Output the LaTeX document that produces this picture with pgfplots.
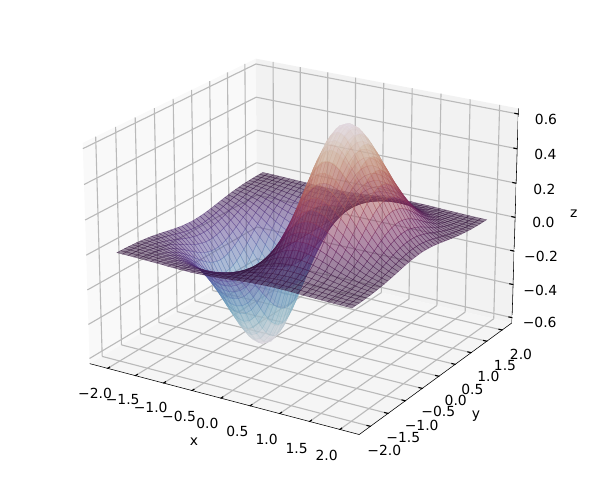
\documentclass[border=0pt]{standalone}
\usepackage{fontspec}
\setmainfont{DejaVu Sans}
\usepackage{pgfplots}
\pgfplotsset{compat=1.18}
% perspective divide, as the reference's camera
\makeatletter
\def\myperspxyz#1#2#3{%
  \global\pgf@x=#1\pgf@xx\global\advance\pgf@x by #2\pgf@yx\global\advance\pgf@x by #3\pgf@zx
  \global\pgf@y=#1\pgf@xy\global\advance\pgf@y by #2\pgf@yy\global\advance\pgf@y by #3\pgf@zy
  \edef\persw{\number\dimexpr 1pt+#1pt*-1197/100000+#2pt*1954/100000+#3pt*-2485/100000\relax}%
  \global\pgf@x=\dimexpr\pgf@x*65536/\persw\relax
  \global\pgf@y=\dimexpr\pgf@y*65536/\persw\relax}
\let\pgfplotsqpointxyz\myperspxyz
\makeatother
\begin{document}
\begin{tikzpicture}
\begin{axis}[
  at={(219.3pt,178.6pt)}, anchor=origin,
  disabledatascaling, set layers,
  x={(41.28pt,-9.27pt)}, y={(25.29pt,15.13pt)}, z={(0pt,124pt)},
  xmin=-2.32, xmax=2.32, ymin=-2.32, ymax=2.32, zmin=-0.632, zmax=0.632,
  xtick={-2,-1.5,...,2}, ytick={-2,-1.5,...,2}, ztick={-0.6,-0.4,...,0.6},
  xticklabel=\empty, yticklabel=\empty, zticklabel=\empty,
  grid=major, grid style={color=black!27, line width=0.8pt},
  axis line style={draw=none}, major tick length=0pt,
  colormap={twi}{rgb=(.886,.85,.888) rgb=(.80,.82,.84) rgb=(.69,.77,.81) rgb=(.57,.72,.78) rgb=(.47,.65,.75) rgb=(.40,.57,.73) rgb=(.37,.48,.70) rgb=(.37,.38,.65) rgb=(.36,.27,.57) rgb=(.30,.16,.44) rgb=(.19,.07,.22) rgb=(.27,.08,.29) rgb=(.40,.12,.36) rgb=(.51,.19,.37) rgb=(.61,.27,.36) rgb=(.69,.37,.37) rgb=(.75,.49,.42) rgb=(.79,.61,.52) rgb=(.82,.73,.66) rgb=(.86,.80,.79) rgb=(.886,.85,.888)},
  point meta min=-0.686, point meta max=0.686,
]
% panes
\addplot3[on layer=axis background, fill=black!2.5, draw=none] coordinates {(-2.32,-2.32,-.632) (-2.32,2.32,-.632) (-2.32,2.32,.632) (-2.32,-2.32,.632)} --cycle;
\addplot3[on layer=axis background, fill=black!5, draw=none] coordinates {(-2.32,2.32,-.632) (2.32,2.32,-.632) (2.32,2.32,.632) (-2.32,2.32,.632)} --cycle;
\addplot3[on layer=axis background, fill=black!3.75, draw=none] coordinates {(-2.32,-2.32,-.632) (2.32,-2.32,-.632) (2.32,2.32,-.632) (-2.32,2.32,-.632)} --cycle;
\addplot3[surf, shader=faceted, faceted color=mapped color, line width=0.25pt, opacity=0.5, z buffer=sort, mesh/cols=41, mesh/ordering=x varies] table {
-2 -2 -.001
-1.9 -2 -.002
-1.8 -2 -.002
-1.7 -2 -.003
-1.6 -2 -.004
-1.5 -2 -.005
-1.4 -2 -.006
-1.3 -2 -.007
-1.2 -2 -.008
-1.1 -2 -.010
-1 -2 -.011
-.9 -2 -.012
-.8 -2 -.012
-.7 -2 -.013
-.6 -2 -.012
-.5 -2 -.011
-.4 -2 -.010
-.3 -2 -.008
-.2 -2 -.006
-.1 -2 -.003
0 -2 0
.1 -2 .003
.2 -2 .006
.3 -2 .008
.4 -2 .010
.5 -2 .011
.6 -2 .012
.7 -2 .013
.8 -2 .012
.9 -2 .012
1 -2 .011
1.1 -2 .010
1.2 -2 .008
1.3 -2 .007
1.4 -2 .006
1.5 -2 .005
1.6 -2 .004
1.7 -2 .003
1.8 -2 .002
1.9 -2 .002
2 -2 .001
-2 -1.9 -.002
-1.9 -1.9 -.002
-1.8 -1.9 -.003
-1.7 -1.9 -.004
-1.6 -1.9 -.005
-1.5 -1.9 -.007
-1.4 -1.9 -.009
-1.3 -1.9 -.010
-1.2 -1.9 -.012
-1.1 -1.9 -.014
-1 -1.9 -.016
-.9 -1.9 -.017
-.8 -1.9 -.018
-.7 -1.9 -.019
-.6 -1.9 -.018
-.5 -1.9 -.017
-.4 -1.9 -.015
-.3 -1.9 -.012
-.2 -1.9 -.008
-.1 -1.9 -.004
0 -1.9 0
.1 -1.9 .004
.2 -1.9 .008
.3 -1.9 .012
.4 -1.9 .015
.5 -1.9 .017
.6 -1.9 .018
.7 -1.9 .019
.8 -1.9 .018
.9 -1.9 .017
1 -1.9 .016
1.1 -1.9 .014
1.2 -1.9 .012
1.3 -1.9 .010
1.4 -1.9 .009
1.5 -1.9 .007
1.6 -1.9 .005
1.7 -1.9 .004
1.8 -1.9 .003
1.9 -1.9 .002
2 -1.9 .002
-2 -1.8 -.002
-1.9 -1.8 -.003
-1.8 -1.8 -.004
-1.7 -1.8 -.006
-1.6 -1.8 -.008
-1.5 -1.8 -.010
-1.4 -1.8 -.012
-1.3 -1.8 -.015
-1.2 -1.8 -.018
-1.1 -1.8 -.021
-1 -1.8 -.023
-.9 -1.8 -.025
-.8 -1.8 -.026
-.7 -1.8 -.027
-.6 -1.8 -.026
-.5 -1.8 -.024
-.4 -1.8 -.021
-.3 -1.8 -.017
-.2 -1.8 -.012
-.1 -1.8 -.006
0 -1.8 0
.1 -1.8 .006
.2 -1.8 .012
.3 -1.8 .017
.4 -1.8 .021
.5 -1.8 .024
.6 -1.8 .026
.7 -1.8 .027
.8 -1.8 .026
.9 -1.8 .025
1 -1.8 .023
1.1 -1.8 .021
1.2 -1.8 .018
1.3 -1.8 .015
1.4 -1.8 .012
1.5 -1.8 .010
1.6 -1.8 .008
1.7 -1.8 .006
1.8 -1.8 .004
1.9 -1.8 .003
2 -1.8 .002
-2 -1.7 -.003
-1.9 -1.7 -.005
-1.8 -1.7 -.006
-1.7 -1.7 -.008
-1.6 -1.7 -.011
-1.5 -1.7 -.014
-1.4 -1.7 -.018
-1.3 -1.7 -.021
-1.2 -1.7 -.025
-1.1 -1.7 -.029
-1 -1.7 -.033
-.9 -1.7 -.036
-.8 -1.7 -.038
-.7 -1.7 -.038
-.6 -1.7 -.037
-.5 -1.7 -.035
-.4 -1.7 -.030
-.3 -1.7 -.024
-.2 -1.7 -.017
-.1 -1.7 -.009
0 -1.7 0
.1 -1.7 .009
.2 -1.7 .017
.3 -1.7 .024
.4 -1.7 .030
.5 -1.7 .035
.6 -1.7 .037
.7 -1.7 .038
.8 -1.7 .038
.9 -1.7 .036
1 -1.7 .033
1.1 -1.7 .029
1.2 -1.7 .025
1.3 -1.7 .021
1.4 -1.7 .018
1.5 -1.7 .014
1.6 -1.7 .011
1.7 -1.7 .008
1.8 -1.7 .006
1.9 -1.7 .005
2 -1.7 .003
-2 -1.6 -.005
-1.9 -1.6 -.006
-1.8 -1.6 -.009
-1.7 -1.6 -.012
-1.6 -1.6 -.015
-1.5 -1.6 -.020
-1.4 -1.6 -.024
-1.3 -1.6 -.030
-1.2 -1.6 -.035
-1.1 -1.6 -.041
-1 -1.6 -.045
-.9 -1.6 -.050
-.8 -1.6 -.052
-.7 -1.6 -.053
-.6 -1.6 -.052
-.5 -1.6 -.048
-.4 -1.6 -.042
-.3 -1.6 -.034
-.2 -1.6 -.024
-.1 -1.6 -.012
0 -1.6 0
.1 -1.6 .012
.2 -1.6 .024
.3 -1.6 .034
.4 -1.6 .042
.5 -1.6 .048
.6 -1.6 .052
.7 -1.6 .053
.8 -1.6 .052
.9 -1.6 .050
1 -1.6 .045
1.1 -1.6 .041
1.2 -1.6 .035
1.3 -1.6 .030
1.4 -1.6 .024
1.5 -1.6 .020
1.6 -1.6 .015
1.7 -1.6 .012
1.8 -1.6 .009
1.9 -1.6 .006
2 -1.6 .005
-2 -1.5 -.006
-1.9 -1.5 -.009
-1.8 -1.5 -.012
-1.7 -1.5 -.016
-1.6 -1.5 -.021
-1.5 -1.5 -.027
-1.4 -1.5 -.033
-1.3 -1.5 -.040
-1.2 -1.5 -.048
-1.1 -1.5 -.055
-1 -1.5 -.062
-.9 -1.5 -.068
-.8 -1.5 -.071
-.7 -1.5 -.072
-.6 -1.5 -.071
-.5 -1.5 -.066
-.4 -1.5 -.057
-.3 -1.5 -.046
-.2 -1.5 -.032
-.1 -1.5 -.017
0 -1.5 0
.1 -1.5 .017
.2 -1.5 .032
.3 -1.5 .046
.4 -1.5 .057
.5 -1.5 .066
.6 -1.5 .071
.7 -1.5 .072
.8 -1.5 .071
.9 -1.5 .068
1 -1.5 .062
1.1 -1.5 .055
1.2 -1.5 .048
1.3 -1.5 .040
1.4 -1.5 .033
1.5 -1.5 .027
1.6 -1.5 .021
1.7 -1.5 .016
1.8 -1.5 .012
1.9 -1.5 .009
2 -1.5 .006
-2 -1.4 -.008
-1.9 -1.4 -.012
-1.8 -1.4 -.016
-1.7 -1.4 -.021
-1.6 -1.4 -.028
-1.5 -1.4 -.036
-1.4 -1.4 -.044
-1.3 -1.4 -.054
-1.2 -1.4 -.064
-1.1 -1.4 -.074
-1 -1.4 -.083
-.9 -1.4 -.090
-.8 -1.4 -.095
-.7 -1.4 -.097
-.6 -1.4 -.094
-.5 -1.4 -.088
-.4 -1.4 -.077
-.3 -1.4 -.062
-.2 -1.4 -.043
-.1 -1.4 -.022
0 -1.4 0
.1 -1.4 .022
.2 -1.4 .043
.3 -1.4 .062
.4 -1.4 .077
.5 -1.4 .088
.6 -1.4 .094
.7 -1.4 .097
.8 -1.4 .095
.9 -1.4 .090
1 -1.4 .083
1.1 -1.4 .074
1.2 -1.4 .064
1.3 -1.4 .054
1.4 -1.4 .044
1.5 -1.4 .036
1.6 -1.4 .028
1.7 -1.4 .021
1.8 -1.4 .016
1.9 -1.4 .012
2 -1.4 .008
-2 -1.3 -.011
-1.9 -1.3 -.015
-1.8 -1.3 -.021
-1.7 -1.3 -.028
-1.6 -1.3 -.037
-1.5 -1.3 -.047
-1.4 -1.3 -.058
-1.3 -1.3 -.071
-1.2 -1.3 -.084
-1.1 -1.3 -.097
-1 -1.3 -.109
-.9 -1.3 -.118
-.8 -1.3 -.125
-.7 -1.3 -.127
-.6 -1.3 -.124
-.5 -1.3 -.115
-.4 -1.3 -.101
-.3 -1.3 -.081
-.2 -1.3 -.057
-.1 -1.3 -.029
0 -1.3 0
.1 -1.3 .029
.2 -1.3 .057
.3 -1.3 .081
.4 -1.3 .101
.5 -1.3 .115
.6 -1.3 .124
.7 -1.3 .127
.8 -1.3 .125
.9 -1.3 .118
1 -1.3 .109
1.1 -1.3 .097
1.2 -1.3 .084
1.3 -1.3 .071
1.4 -1.3 .058
1.5 -1.3 .047
1.6 -1.3 .037
1.7 -1.3 .028
1.8 -1.3 .021
1.9 -1.3 .015
2 -1.3 .011
-2 -1.2 -.014
-1.9 -1.2 -.020
-1.8 -1.2 -.027
-1.7 -1.2 -.036
-1.6 -1.2 -.047
-1.5 -1.2 -.060
-1.4 -1.2 -.075
-1.3 -1.2 -.091
-1.2 -1.2 -.108
-1.1 -1.2 -.124
-1 -1.2 -.139
-.9 -1.2 -.152
-.8 -1.2 -.160
-.7 -1.2 -.163
-.6 -1.2 -.159
-.5 -1.2 -.148
-.4 -1.2 -.129
-.3 -1.2 -.104
-.2 -1.2 -.073
-.1 -1.2 -.038
0 -1.2 0
.1 -1.2 .038
.2 -1.2 .073
.3 -1.2 .104
.4 -1.2 .129
.5 -1.2 .148
.6 -1.2 .159
.7 -1.2 .163
.8 -1.2 .160
.9 -1.2 .152
1 -1.2 .139
1.1 -1.2 .124
1.2 -1.2 .108
1.3 -1.2 .091
1.4 -1.2 .075
1.5 -1.2 .060
1.6 -1.2 .047
1.7 -1.2 .036
1.8 -1.2 .027
1.9 -1.2 .020
2 -1.2 .014
-2 -1.1 -.017
-1.9 -1.1 -.025
-1.8 -1.1 -.034
-1.7 -1.1 -.045
-1.6 -1.1 -.059
-1.5 -1.1 -.075
-1.4 -1.1 -.094
-1.3 -1.1 -.114
-1.2 -1.1 -.136
-1.1 -1.1 -.156
-1 -1.1 -.176
-.9 -1.1 -.191
-.8 -1.1 -.201
-.7 -1.1 -.205
-.6 -1.1 -.200
-.5 -1.1 -.186
-.4 -1.1 -.163
-.3 -1.1 -.131
-.2 -1.1 -.092
-.1 -1.1 -.047
0 -1.1 0
.1 -1.1 .047
.2 -1.1 .092
.3 -1.1 .131
.4 -1.1 .163
.5 -1.1 .186
.6 -1.1 .200
.7 -1.1 .205
.8 -1.1 .201
.9 -1.1 .191
1 -1.1 .176
1.1 -1.1 .156
1.2 -1.1 .136
1.3 -1.1 .114
1.4 -1.1 .094
1.5 -1.1 .075
1.6 -1.1 .059
1.7 -1.1 .045
1.8 -1.1 .034
1.9 -1.1 .025
2 -1.1 .017
-2 -1 -.022
-1.9 -1 -.030
-1.8 -1 -.042
-1.7 -1 -.056
-1.6 -1 -.073
-1.5 -1 -.093
-1.4 -1 -.116
-1.3 -1 -.141
-1.2 -1 -.167
-1.1 -1 -.193
-1 -1 -.217
-.9 -1 -.236
-.8 -1 -.248
-.7 -1 -.252
-.6 -1 -.246
-.5 -1 -.229
-.4 -1 -.201
-.3 -1 -.161
-.2 -1 -.113
-.1 -1 -.058
0 -1 0
.1 -1 .058
.2 -1 .113
.3 -1 .161
.4 -1 .201
.5 -1 .229
.6 -1 .246
.7 -1 .252
.8 -1 .248
.9 -1 .236
1 -1 .217
1.1 -1 .193
1.2 -1 .167
1.3 -1 .141
1.4 -1 .116
1.5 -1 .093
1.6 -1 .073
1.7 -1 .056
1.8 -1 .042
1.9 -1 .030
2 -1 .022
-2 -.9 -.026
-1.9 -.9 -.037
-1.8 -.9 -.050
-1.7 -.9 -.067
-1.6 -.9 -.088
-1.5 -.9 -.113
-1.4 -.9 -.140
-1.3 -.9 -.171
-1.2 -.9 -.202
-1.1 -.9 -.233
-1 -.9 -.262
-.9 -.9 -.285
-.8 -.9 -.300
-.7 -.9 -.305
-.6 -.9 -.298
-.5 -.9 -.277
-.4 -.9 -.243
-.3 -.9 -.195
-.2 -.9 -.137
-.1 -.9 -.070
0 -.9 0
.1 -.9 .070
.2 -.9 .137
.3 -.9 .195
.4 -.9 .243
.5 -.9 .277
.6 -.9 .298
.7 -.9 .305
.8 -.9 .300
.9 -.9 .285
1 -.9 .262
1.1 -.9 .233
1.2 -.9 .202
1.3 -.9 .171
1.4 -.9 .140
1.5 -.9 .113
1.6 -.9 .088
1.7 -.9 .067
1.8 -.9 .050
1.9 -.9 .037
2 -.9 .026
-2 -.8 -.031
-1.9 -.8 -.043
-1.8 -.8 -.060
-1.7 -.8 -.080
-1.6 -.8 -.104
-1.5 -.8 -.133
-1.4 -.8 -.166
-1.3 -.8 -.202
-1.2 -.8 -.240
-1.1 -.8 -.277
-1 -.8 -.310
-.9 -.8 -.338
-.8 -.8 -.356
-.7 -.8 -.362
-.6 -.8 -.353
-.5 -.8 -.329
-.4 -.8 -.288
-.3 -.8 -.231
-.2 -.8 -.162
-.1 -.8 -.084
0 -.8 0
.1 -.8 .084
.2 -.8 .162
.3 -.8 .231
.4 -.8 .288
.5 -.8 .329
.6 -.8 .353
.7 -.8 .362
.8 -.8 .356
.9 -.8 .338
1 -.8 .310
1.1 -.8 .277
1.2 -.8 .240
1.3 -.8 .202
1.4 -.8 .166
1.5 -.8 .133
1.6 -.8 .104
1.7 -.8 .080
1.8 -.8 .060
1.9 -.8 .043
2 -.8 .031
-2 -.7 -.036
-1.9 -.7 -.050
-1.8 -.7 -.069
-1.7 -.7 -.093
-1.6 -.7 -.121
-1.5 -.7 -.155
-1.4 -.7 -.193
-1.3 -.7 -.235
-1.2 -.7 -.279
-1.1 -.7 -.321
-1 -.7 -.361
-.9 -.7 -.392
-.8 -.7 -.413
-.7 -.7 -.420
-.6 -.7 -.410
-.5 -.7 -.382
-.4 -.7 -.334
-.3 -.7 -.269
-.2 -.7 -.188
-.1 -.7 -.097
0 -.7 0
.1 -.7 .097
.2 -.7 .188
.3 -.7 .269
.4 -.7 .334
.5 -.7 .382
.6 -.7 .410
.7 -.7 .420
.8 -.7 .413
.9 -.7 .392
1 -.7 .361
1.1 -.7 .321
1.2 -.7 .279
1.3 -.7 .235
1.4 -.7 .193
1.5 -.7 .155
1.6 -.7 .121
1.7 -.7 .093
1.8 -.7 .069
1.9 -.7 .050
2 -.7 .036
-2 -.6 -.041
-1.9 -.6 -.057
-1.8 -.6 -.079
-1.7 -.6 -.105
-1.6 -.6 -.138
-1.5 -.6 -.177
-1.4 -.6 -.220
-1.3 -.6 -.268
-1.2 -.6 -.317
-1.1 -.6 -.366
-1 -.6 -.411
-.9 -.6 -.447
-.8 -.6 -.471
-.7 -.6 -.479
-.6 -.6 -.467
-.5 -.6 -.435
-.4 -.6 -.380
-.3 -.6 -.306
-.2 -.6 -.215
-.1 -.6 -.111
0 -.6 0
.1 -.6 .111
.2 -.6 .215
.3 -.6 .306
.4 -.6 .380
.5 -.6 .435
.6 -.6 .467
.7 -.6 .479
.8 -.6 .471
.9 -.6 .447
1 -.6 .411
1.1 -.6 .366
1.2 -.6 .317
1.3 -.6 .268
1.4 -.6 .220
1.5 -.6 .177
1.6 -.6 .138
1.7 -.6 .105
1.8 -.6 .079
1.9 -.6 .057
2 -.6 .041
-2 -.5 -.046
-1.9 -.5 -.064
-1.8 -.5 -.088
-1.7 -.5 -.118
-1.6 -.5 -.154
-1.5 -.5 -.197
-1.4 -.5 -.246
-1.3 -.5 -.299
-1.2 -.5 -.354
-1.1 -.5 -.409
-1 -.5 -.458
-.9 -.5 -.499
-.8 -.5 -.526
-.7 -.5 -.534
-.6 -.5 -.522
-.5 -.5 -.485
-.4 -.5 -.425
-.3 -.5 -.342
-.2 -.5 -.239
-.1 -.5 -.123
0 -.5 0
.1 -.5 .123
.2 -.5 .239
.3 -.5 .342
.4 -.5 .425
.5 -.5 .485
.6 -.5 .522
.7 -.5 .534
.8 -.5 .526
.9 -.5 .499
1 -.5 .458
1.1 -.5 .409
1.2 -.5 .354
1.3 -.5 .299
1.4 -.5 .246
1.5 -.5 .197
1.6 -.5 .154
1.7 -.5 .118
1.8 -.5 .088
1.9 -.5 .064
2 -.5 .046
-2 -.4 -.050
-1.9 -.4 -.070
-1.8 -.4 -.096
-1.7 -.4 -.129
-1.6 -.4 -.169
-1.5 -.4 -.216
-1.4 -.4 -.269
-1.3 -.4 -.327
-1.2 -.4 -.388
-1.1 -.4 -.447
-1 -.4 -.502
-.9 -.4 -.546
-.8 -.4 -.575
-.7 -.4 -.585
-.6 -.4 -.571
-.5 -.4 -.531
-.4 -.4 -.465
-.3 -.4 -.374
-.2 -.4 -.262
-.1 -.4 -.135
0 -.4 0
.1 -.4 .135
.2 -.4 .262
.3 -.4 .374
.4 -.4 .465
.5 -.4 .531
.6 -.4 .571
.7 -.4 .585
.8 -.4 .575
.9 -.4 .546
1 -.4 .502
1.1 -.4 .447
1.2 -.4 .388
1.3 -.4 .327
1.4 -.4 .269
1.5 -.4 .216
1.6 -.4 .169
1.7 -.4 .129
1.8 -.4 .096
1.9 -.4 .070
2 -.4 .050
-2 -.3 -.054
-1.9 -.3 -.075
-1.8 -.3 -.103
-1.7 -.3 -.138
-1.6 -.3 -.181
-1.5 -.3 -.231
-1.4 -.3 -.289
-1.3 -.3 -.351
-1.2 -.3 -.416
-1.1 -.3 -.480
-1 -.3 -.538
-.9 -.3 -.585
-.8 -.3 -.617
-.7 -.3 -.627
-.6 -.3 -.612
-.5 -.3 -.569
-.4 -.3 -.498
-.3 -.3 -.401
-.2 -.3 -.281
-.1 -.3 -.145
0 -.3 0
.1 -.3 .145
.2 -.3 .281
.3 -.3 .401
.4 -.3 .498
.5 -.3 .569
.6 -.3 .612
.7 -.3 .627
.8 -.3 .617
.9 -.3 .585
1 -.3 .538
1.1 -.3 .480
1.2 -.3 .416
1.3 -.3 .351
1.4 -.3 .289
1.5 -.3 .231
1.6 -.3 .181
1.7 -.3 .138
1.8 -.3 .103
1.9 -.3 .075
2 -.3 .054
-2 -.2 -.056
-1.9 -.2 -.079
-1.8 -.2 -.109
-1.7 -.2 -.145
-1.6 -.2 -.190
-1.5 -.2 -.243
-1.4 -.2 -.303
-1.3 -.2 -.369
-1.2 -.2 -.437
-1.1 -.2 -.504
-1 -.2 -.566
-.9 -.2 -.615
-.8 -.2 -.648
-.7 -.2 -.659
-.6 -.2 -.644
-.5 -.2 -.599
-.4 -.2 -.524
-.3 -.2 -.422
-.2 -.2 -.295
-.1 -.2 -.152
0 -.2 0
.1 -.2 .152
.2 -.2 .295
.3 -.2 .422
.4 -.2 .524
.5 -.2 .599
.6 -.2 .644
.7 -.2 .659
.8 -.2 .648
.9 -.2 .615
1 -.2 .566
1.1 -.2 .504
1.2 -.2 .437
1.3 -.2 .369
1.4 -.2 .303
1.5 -.2 .243
1.6 -.2 .190
1.7 -.2 .145
1.8 -.2 .109
1.9 -.2 .079
2 -.2 .056
-2 -.1 -.058
-1.9 -.1 -.082
-1.8 -.1 -.112
-1.7 -.1 -.150
-1.6 -.1 -.196
-1.5 -.1 -.250
-1.4 -.1 -.313
-1.3 -.1 -.380
-1.2 -.1 -.450
-1.1 -.1 -.520
-1 -.1 -.583
-.9 -.1 -.634
-.8 -.1 -.668
-.7 -.1 -.679
-.6 -.1 -.663
-.5 -.1 -.617
-.4 -.1 -.540
-.3 -.1 -.434
-.2 -.1 -.304
-.1 -.1 -.157
0 -.1 0
.1 -.1 .157
.2 -.1 .304
.3 -.1 .434
.4 -.1 .540
.5 -.1 .617
.6 -.1 .663
.7 -.1 .679
.8 -.1 .668
.9 -.1 .634
1 -.1 .583
1.1 -.1 .520
1.2 -.1 .450
1.3 -.1 .380
1.4 -.1 .313
1.5 -.1 .250
1.6 -.1 .196
1.7 -.1 .150
1.8 -.1 .112
1.9 -.1 .082
2 -.1 .058
-2 0 -.059
-1.9 0 -.082
-1.8 0 -.113
-1.7 0 -.151
-1.6 0 -.198
-1.5 0 -.253
-1.4 0 -.316
-1.3 0 -.384
-1.2 0 -.455
-1.1 0 -.525
-1 0 -.589
-.9 0 -.641
-.8 0 -.675
-.7 0 -.686
-.6 0 -.670
-.5 0 -.623
-.4 0 -.545
-.3 0 -.439
-.2 0 -.308
-.1 0 -.158
0 0 0
.1 0 .158
.2 0 .308
.3 0 .439
.4 0 .545
.5 0 .623
.6 0 .670
.7 0 .686
.8 0 .675
.9 0 .641
1 0 .589
1.1 0 .525
1.2 0 .455
1.3 0 .384
1.4 0 .316
1.5 0 .253
1.6 0 .198
1.7 0 .151
1.8 0 .113
1.9 0 .082
2 0 .059
-2 .1 -.058
-1.9 .1 -.082
-1.8 .1 -.112
-1.7 .1 -.150
-1.6 .1 -.196
-1.5 .1 -.250
-1.4 .1 -.313
-1.3 .1 -.380
-1.2 .1 -.450
-1.1 .1 -.520
-1 .1 -.583
-.9 .1 -.634
-.8 .1 -.668
-.7 .1 -.679
-.6 .1 -.663
-.5 .1 -.617
-.4 .1 -.540
-.3 .1 -.434
-.2 .1 -.304
-.1 .1 -.157
0 .1 0
.1 .1 .157
.2 .1 .304
.3 .1 .434
.4 .1 .540
.5 .1 .617
.6 .1 .663
.7 .1 .679
.8 .1 .668
.9 .1 .634
1 .1 .583
1.1 .1 .520
1.2 .1 .450
1.3 .1 .380
1.4 .1 .313
1.5 .1 .250
1.6 .1 .196
1.7 .1 .150
1.8 .1 .112
1.9 .1 .082
2 .1 .058
-2 .2 -.056
-1.9 .2 -.079
-1.8 .2 -.109
-1.7 .2 -.145
-1.6 .2 -.190
-1.5 .2 -.243
-1.4 .2 -.303
-1.3 .2 -.369
-1.2 .2 -.437
-1.1 .2 -.504
-1 .2 -.566
-.9 .2 -.615
-.8 .2 -.648
-.7 .2 -.659
-.6 .2 -.644
-.5 .2 -.599
-.4 .2 -.524
-.3 .2 -.422
-.2 .2 -.295
-.1 .2 -.152
0 .2 0
.1 .2 .152
.2 .2 .295
.3 .2 .422
.4 .2 .524
.5 .2 .599
.6 .2 .644
.7 .2 .659
.8 .2 .648
.9 .2 .615
1 .2 .566
1.1 .2 .504
1.2 .2 .437
1.3 .2 .369
1.4 .2 .303
1.5 .2 .243
1.6 .2 .190
1.7 .2 .145
1.8 .2 .109
1.9 .2 .079
2 .2 .056
-2 .3 -.054
-1.9 .3 -.075
-1.8 .3 -.103
-1.7 .3 -.138
-1.6 .3 -.181
-1.5 .3 -.231
-1.4 .3 -.289
-1.3 .3 -.351
-1.2 .3 -.416
-1.1 .3 -.480
-1 .3 -.538
-.9 .3 -.585
-.8 .3 -.617
-.7 .3 -.627
-.6 .3 -.612
-.5 .3 -.569
-.4 .3 -.498
-.3 .3 -.401
-.2 .3 -.281
-.1 .3 -.145
0 .3 0
.1 .3 .145
.2 .3 .281
.3 .3 .401
.4 .3 .498
.5 .3 .569
.6 .3 .612
.7 .3 .627
.8 .3 .617
.9 .3 .585
1 .3 .538
1.1 .3 .480
1.2 .3 .416
1.3 .3 .351
1.4 .3 .289
1.5 .3 .231
1.6 .3 .181
1.7 .3 .138
1.8 .3 .103
1.9 .3 .075
2 .3 .054
-2 .4 -.050
-1.9 .4 -.070
-1.8 .4 -.096
-1.7 .4 -.129
-1.6 .4 -.169
-1.5 .4 -.216
-1.4 .4 -.269
-1.3 .4 -.327
-1.2 .4 -.388
-1.1 .4 -.447
-1 .4 -.502
-.9 .4 -.546
-.8 .4 -.575
-.7 .4 -.585
-.6 .4 -.571
-.5 .4 -.531
-.4 .4 -.465
-.3 .4 -.374
-.2 .4 -.262
-.1 .4 -.135
0 .4 0
.1 .4 .135
.2 .4 .262
.3 .4 .374
.4 .4 .465
.5 .4 .531
.6 .4 .571
.7 .4 .585
.8 .4 .575
.9 .4 .546
1 .4 .502
1.1 .4 .447
1.2 .4 .388
1.3 .4 .327
1.4 .4 .269
1.5 .4 .216
1.6 .4 .169
1.7 .4 .129
1.8 .4 .096
1.9 .4 .070
2 .4 .050
-2 .5 -.046
-1.9 .5 -.064
-1.8 .5 -.088
-1.7 .5 -.118
-1.6 .5 -.154
-1.5 .5 -.197
-1.4 .5 -.246
-1.3 .5 -.299
-1.2 .5 -.354
-1.1 .5 -.409
-1 .5 -.458
-.9 .5 -.499
-.8 .5 -.526
-.7 .5 -.534
-.6 .5 -.522
-.5 .5 -.485
-.4 .5 -.425
-.3 .5 -.342
-.2 .5 -.239
-.1 .5 -.123
0 .5 0
.1 .5 .123
.2 .5 .239
.3 .5 .342
.4 .5 .425
.5 .5 .485
.6 .5 .522
.7 .5 .534
.8 .5 .526
.9 .5 .499
1 .5 .458
1.1 .5 .409
1.2 .5 .354
1.3 .5 .299
1.4 .5 .246
1.5 .5 .197
1.6 .5 .154
1.7 .5 .118
1.8 .5 .088
1.9 .5 .064
2 .5 .046
-2 .6 -.041
-1.9 .6 -.057
-1.8 .6 -.079
-1.7 .6 -.105
-1.6 .6 -.138
-1.5 .6 -.177
-1.4 .6 -.220
-1.3 .6 -.268
-1.2 .6 -.317
-1.1 .6 -.366
-1 .6 -.411
-.9 .6 -.447
-.8 .6 -.471
-.7 .6 -.479
-.6 .6 -.467
-.5 .6 -.435
-.4 .6 -.380
-.3 .6 -.306
-.2 .6 -.215
-.1 .6 -.111
0 .6 0
.1 .6 .111
.2 .6 .215
.3 .6 .306
.4 .6 .380
.5 .6 .435
.6 .6 .467
.7 .6 .479
.8 .6 .471
.9 .6 .447
1 .6 .411
1.1 .6 .366
1.2 .6 .317
1.3 .6 .268
1.4 .6 .220
1.5 .6 .177
1.6 .6 .138
1.7 .6 .105
1.8 .6 .079
1.9 .6 .057
2 .6 .041
-2 .7 -.036
-1.9 .7 -.050
-1.8 .7 -.069
-1.7 .7 -.093
-1.6 .7 -.121
-1.5 .7 -.155
-1.4 .7 -.193
-1.3 .7 -.235
-1.2 .7 -.279
-1.1 .7 -.321
-1 .7 -.361
-.9 .7 -.392
-.8 .7 -.413
-.7 .7 -.420
-.6 .7 -.410
-.5 .7 -.382
-.4 .7 -.334
-.3 .7 -.269
-.2 .7 -.188
-.1 .7 -.097
0 .7 0
.1 .7 .097
.2 .7 .188
.3 .7 .269
.4 .7 .334
.5 .7 .382
.6 .7 .410
.7 .7 .420
.8 .7 .413
.9 .7 .392
1 .7 .361
1.1 .7 .321
1.2 .7 .279
1.3 .7 .235
1.4 .7 .193
1.5 .7 .155
1.6 .7 .121
1.7 .7 .093
1.8 .7 .069
1.9 .7 .050
2 .7 .036
-2 .8 -.031
-1.9 .8 -.043
-1.8 .8 -.060
-1.7 .8 -.080
-1.6 .8 -.104
-1.5 .8 -.133
-1.4 .8 -.166
-1.3 .8 -.202
-1.2 .8 -.240
-1.1 .8 -.277
-1 .8 -.310
-.9 .8 -.338
-.8 .8 -.356
-.7 .8 -.362
-.6 .8 -.353
-.5 .8 -.329
-.4 .8 -.288
-.3 .8 -.231
-.2 .8 -.162
-.1 .8 -.084
0 .8 0
.1 .8 .084
.2 .8 .162
.3 .8 .231
.4 .8 .288
.5 .8 .329
.6 .8 .353
.7 .8 .362
.8 .8 .356
.9 .8 .338
1 .8 .310
1.1 .8 .277
1.2 .8 .240
1.3 .8 .202
1.4 .8 .166
1.5 .8 .133
1.6 .8 .104
1.7 .8 .080
1.8 .8 .060
1.9 .8 .043
2 .8 .031
-2 .9 -.026
-1.9 .9 -.037
-1.8 .9 -.050
-1.7 .9 -.067
-1.6 .9 -.088
-1.5 .9 -.113
-1.4 .9 -.140
-1.3 .9 -.171
-1.2 .9 -.202
-1.1 .9 -.233
-1 .9 -.262
-.9 .9 -.285
-.8 .9 -.300
-.7 .9 -.305
-.6 .9 -.298
-.5 .9 -.277
-.4 .9 -.243
-.3 .9 -.195
-.2 .9 -.137
-.1 .9 -.070
0 .9 0
.1 .9 .070
.2 .9 .137
.3 .9 .195
.4 .9 .243
.5 .9 .277
.6 .9 .298
.7 .9 .305
.8 .9 .300
.9 .9 .285
1 .9 .262
1.1 .9 .233
1.2 .9 .202
1.3 .9 .171
1.4 .9 .140
1.5 .9 .113
1.6 .9 .088
1.7 .9 .067
1.8 .9 .050
1.9 .9 .037
2 .9 .026
-2 1 -.022
-1.9 1 -.030
-1.8 1 -.042
-1.7 1 -.056
-1.6 1 -.073
-1.5 1 -.093
-1.4 1 -.116
-1.3 1 -.141
-1.2 1 -.167
-1.1 1 -.193
-1 1 -.217
-.9 1 -.236
-.8 1 -.248
-.7 1 -.252
-.6 1 -.246
-.5 1 -.229
-.4 1 -.201
-.3 1 -.161
-.2 1 -.113
-.1 1 -.058
0 1 0
.1 1 .058
.2 1 .113
.3 1 .161
.4 1 .201
.5 1 .229
.6 1 .246
.7 1 .252
.8 1 .248
.9 1 .236
1 1 .217
1.1 1 .193
1.2 1 .167
1.3 1 .141
1.4 1 .116
1.5 1 .093
1.6 1 .073
1.7 1 .056
1.8 1 .042
1.9 1 .030
2 1 .022
-2 1.1 -.017
-1.9 1.1 -.025
-1.8 1.1 -.034
-1.7 1.1 -.045
-1.6 1.1 -.059
-1.5 1.1 -.075
-1.4 1.1 -.094
-1.3 1.1 -.114
-1.2 1.1 -.136
-1.1 1.1 -.156
-1 1.1 -.176
-.9 1.1 -.191
-.8 1.1 -.201
-.7 1.1 -.205
-.6 1.1 -.200
-.5 1.1 -.186
-.4 1.1 -.163
-.3 1.1 -.131
-.2 1.1 -.092
-.1 1.1 -.047
0 1.1 0
.1 1.1 .047
.2 1.1 .092
.3 1.1 .131
.4 1.1 .163
.5 1.1 .186
.6 1.1 .200
.7 1.1 .205
.8 1.1 .201
.9 1.1 .191
1 1.1 .176
1.1 1.1 .156
1.2 1.1 .136
1.3 1.1 .114
1.4 1.1 .094
1.5 1.1 .075
1.6 1.1 .059
1.7 1.1 .045
1.8 1.1 .034
1.9 1.1 .025
2 1.1 .017
-2 1.2 -.014
-1.9 1.2 -.020
-1.8 1.2 -.027
-1.7 1.2 -.036
-1.6 1.2 -.047
-1.5 1.2 -.060
-1.4 1.2 -.075
-1.3 1.2 -.091
-1.2 1.2 -.108
-1.1 1.2 -.124
-1 1.2 -.139
-.9 1.2 -.152
-.8 1.2 -.160
-.7 1.2 -.163
-.6 1.2 -.159
-.5 1.2 -.148
-.4 1.2 -.129
-.3 1.2 -.104
-.2 1.2 -.073
-.1 1.2 -.038
0 1.2 0
.1 1.2 .038
.2 1.2 .073
.3 1.2 .104
.4 1.2 .129
.5 1.2 .148
.6 1.2 .159
.7 1.2 .163
.8 1.2 .160
.9 1.2 .152
1 1.2 .139
1.1 1.2 .124
1.2 1.2 .108
1.3 1.2 .091
1.4 1.2 .075
1.5 1.2 .060
1.6 1.2 .047
1.7 1.2 .036
1.8 1.2 .027
1.9 1.2 .020
2 1.2 .014
-2 1.3 -.011
-1.9 1.3 -.015
-1.8 1.3 -.021
-1.7 1.3 -.028
-1.6 1.3 -.037
-1.5 1.3 -.047
-1.4 1.3 -.058
-1.3 1.3 -.071
-1.2 1.3 -.084
-1.1 1.3 -.097
-1 1.3 -.109
-.9 1.3 -.118
-.8 1.3 -.125
-.7 1.3 -.127
-.6 1.3 -.124
-.5 1.3 -.115
-.4 1.3 -.101
-.3 1.3 -.081
-.2 1.3 -.057
-.1 1.3 -.029
0 1.3 0
.1 1.3 .029
.2 1.3 .057
.3 1.3 .081
.4 1.3 .101
.5 1.3 .115
.6 1.3 .124
.7 1.3 .127
.8 1.3 .125
.9 1.3 .118
1 1.3 .109
1.1 1.3 .097
1.2 1.3 .084
1.3 1.3 .071
1.4 1.3 .058
1.5 1.3 .047
1.6 1.3 .037
1.7 1.3 .028
1.8 1.3 .021
1.9 1.3 .015
2 1.3 .011
-2 1.4 -.008
-1.9 1.4 -.012
-1.8 1.4 -.016
-1.7 1.4 -.021
-1.6 1.4 -.028
-1.5 1.4 -.036
-1.4 1.4 -.044
-1.3 1.4 -.054
-1.2 1.4 -.064
-1.1 1.4 -.074
-1 1.4 -.083
-.9 1.4 -.090
-.8 1.4 -.095
-.7 1.4 -.097
-.6 1.4 -.094
-.5 1.4 -.088
-.4 1.4 -.077
-.3 1.4 -.062
-.2 1.4 -.043
-.1 1.4 -.022
0 1.4 0
.1 1.4 .022
.2 1.4 .043
.3 1.4 .062
.4 1.4 .077
.5 1.4 .088
.6 1.4 .094
.7 1.4 .097
.8 1.4 .095
.9 1.4 .090
1 1.4 .083
1.1 1.4 .074
1.2 1.4 .064
1.3 1.4 .054
1.4 1.4 .044
1.5 1.4 .036
1.6 1.4 .028
1.7 1.4 .021
1.8 1.4 .016
1.9 1.4 .012
2 1.4 .008
-2 1.5 -.006
-1.9 1.5 -.009
-1.8 1.5 -.012
-1.7 1.5 -.016
-1.6 1.5 -.021
-1.5 1.5 -.027
-1.4 1.5 -.033
-1.3 1.5 -.040
-1.2 1.5 -.048
-1.1 1.5 -.055
-1 1.5 -.062
-.9 1.5 -.068
-.8 1.5 -.071
-.7 1.5 -.072
-.6 1.5 -.071
-.5 1.5 -.066
-.4 1.5 -.057
-.3 1.5 -.046
-.2 1.5 -.032
-.1 1.5 -.017
0 1.5 0
.1 1.5 .017
.2 1.5 .032
.3 1.5 .046
.4 1.5 .057
.5 1.5 .066
.6 1.5 .071
.7 1.5 .072
.8 1.5 .071
.9 1.5 .068
1 1.5 .062
1.1 1.5 .055
1.2 1.5 .048
1.3 1.5 .040
1.4 1.5 .033
1.5 1.5 .027
1.6 1.5 .021
1.7 1.5 .016
1.8 1.5 .012
1.9 1.5 .009
2 1.5 .006
-2 1.6 -.005
-1.9 1.6 -.006
-1.8 1.6 -.009
-1.7 1.6 -.012
-1.6 1.6 -.015
-1.5 1.6 -.020
-1.4 1.6 -.024
-1.3 1.6 -.030
-1.2 1.6 -.035
-1.1 1.6 -.041
-1 1.6 -.045
-.9 1.6 -.050
-.8 1.6 -.052
-.7 1.6 -.053
-.6 1.6 -.052
-.5 1.6 -.048
-.4 1.6 -.042
-.3 1.6 -.034
-.2 1.6 -.024
-.1 1.6 -.012
0 1.6 0
.1 1.6 .012
.2 1.6 .024
.3 1.6 .034
.4 1.6 .042
.5 1.6 .048
.6 1.6 .052
.7 1.6 .053
.8 1.6 .052
.9 1.6 .050
1 1.6 .045
1.1 1.6 .041
1.2 1.6 .035
1.3 1.6 .030
1.4 1.6 .024
1.5 1.6 .020
1.6 1.6 .015
1.7 1.6 .012
1.8 1.6 .009
1.9 1.6 .006
2 1.6 .005
-2 1.7 -.003
-1.9 1.7 -.005
-1.8 1.7 -.006
-1.7 1.7 -.008
-1.6 1.7 -.011
-1.5 1.7 -.014
-1.4 1.7 -.018
-1.3 1.7 -.021
-1.2 1.7 -.025
-1.1 1.7 -.029
-1 1.7 -.033
-.9 1.7 -.036
-.8 1.7 -.038
-.7 1.7 -.038
-.6 1.7 -.037
-.5 1.7 -.035
-.4 1.7 -.030
-.3 1.7 -.024
-.2 1.7 -.017
-.1 1.7 -.009
0 1.7 0
.1 1.7 .009
.2 1.7 .017
.3 1.7 .024
.4 1.7 .030
.5 1.7 .035
.6 1.7 .037
.7 1.7 .038
.8 1.7 .038
.9 1.7 .036
1 1.7 .033
1.1 1.7 .029
1.2 1.7 .025
1.3 1.7 .021
1.4 1.7 .018
1.5 1.7 .014
1.6 1.7 .011
1.7 1.7 .008
1.8 1.7 .006
1.9 1.7 .005
2 1.7 .003
-2 1.8 -.002
-1.9 1.8 -.003
-1.8 1.8 -.004
-1.7 1.8 -.006
-1.6 1.8 -.008
-1.5 1.8 -.010
-1.4 1.8 -.012
-1.3 1.8 -.015
-1.2 1.8 -.018
-1.1 1.8 -.021
-1 1.8 -.023
-.9 1.8 -.025
-.8 1.8 -.026
-.7 1.8 -.027
-.6 1.8 -.026
-.5 1.8 -.024
-.4 1.8 -.021
-.3 1.8 -.017
-.2 1.8 -.012
-.1 1.8 -.006
0 1.8 0
.1 1.8 .006
.2 1.8 .012
.3 1.8 .017
.4 1.8 .021
.5 1.8 .024
.6 1.8 .026
.7 1.8 .027
.8 1.8 .026
.9 1.8 .025
1 1.8 .023
1.1 1.8 .021
1.2 1.8 .018
1.3 1.8 .015
1.4 1.8 .012
1.5 1.8 .010
1.6 1.8 .008
1.7 1.8 .006
1.8 1.8 .004
1.9 1.8 .003
2 1.8 .002
-2 1.9 -.002
-1.9 1.9 -.002
-1.8 1.9 -.003
-1.7 1.9 -.004
-1.6 1.9 -.005
-1.5 1.9 -.007
-1.4 1.9 -.009
-1.3 1.9 -.010
-1.2 1.9 -.012
-1.1 1.9 -.014
-1 1.9 -.016
-.9 1.9 -.017
-.8 1.9 -.018
-.7 1.9 -.019
-.6 1.9 -.018
-.5 1.9 -.017
-.4 1.9 -.015
-.3 1.9 -.012
-.2 1.9 -.008
-.1 1.9 -.004
0 1.9 0
.1 1.9 .004
.2 1.9 .008
.3 1.9 .012
.4 1.9 .015
.5 1.9 .017
.6 1.9 .018
.7 1.9 .019
.8 1.9 .018
.9 1.9 .017
1 1.9 .016
1.1 1.9 .014
1.2 1.9 .012
1.3 1.9 .010
1.4 1.9 .009
1.5 1.9 .007
1.6 1.9 .005
1.7 1.9 .004
1.8 1.9 .003
1.9 1.9 .002
2 1.9 .002
-2 2 -.001
-1.9 2 -.002
-1.8 2 -.002
-1.7 2 -.003
-1.6 2 -.004
-1.5 2 -.005
-1.4 2 -.006
-1.3 2 -.007
-1.2 2 -.008
-1.1 2 -.010
-1 2 -.011
-.9 2 -.012
-.8 2 -.012
-.7 2 -.013
-.6 2 -.012
-.5 2 -.011
-.4 2 -.010
-.3 2 -.008
-.2 2 -.006
-.1 2 -.003
0 2 0
.1 2 .003
.2 2 .006
.3 2 .008
.4 2 .010
.5 2 .011
.6 2 .012
.7 2 .013
.8 2 .012
.9 2 .012
1 2 .011
1.1 2 .010
1.2 2 .008
1.3 2 .007
1.4 2 .006
1.5 2 .005
1.6 2 .004
1.7 2 .003
1.8 2 .002
1.9 2 .002
2 2 .001
};
% the three axis lines and their ticks
\draw[black, line width=0.8pt] (axis cs:-2.32,-2.32,-.632) -- (axis cs:2.32,-2.32,-.632) -- (axis cs:2.32,2.32,-.632) -- (axis cs:2.32,2.32,.632);
\pgfplotsinvokeforeach{-2,-1.5,...,2}{
  \draw[black, line width=0.8pt] (axis cs:#1,-2.41,-.632) -- (axis cs:#1,-2.25,-.632);
  \draw[black, line width=0.8pt] (axis cs:2.41,#1,-.632) -- (axis cs:2.25,#1,-.632);
}
\pgfplotsinvokeforeach{-.6,-.4,-.2,0,.2,.4,.6}{
  \draw[black, line width=0.8pt] (axis cs:2.41,2.32,#1) -- (axis cs:2.25,2.32,#1);
}
\end{axis}
\begin{scope}[x=0.72pt, y=-0.72pt, yshift=348.48pt, every node/.style={font=\fontsize{10}{12}\selectfont, inner sep=0pt}]
\node at (95,393.3) {−2.0};
\node at (122.7,400) {−1.5};
\node at (150.7,407.7) {−1.0};
\node at (179,416) {−0.5};
\node at (207.3,423.3) {0.0};
\node at (237.3,431) {0.5};
\node at (266.7,439) {1.0};
\node at (296.7,448.3) {1.5};
\node at (326.7,455.7) {2.0};
\node at (194,441.7) {x};
\node at (384.3,450) {−2.0};
\node at (403.3,437.3) {−1.5};
\node at (421.7,425) {−1.0};
\node at (438.3,411.7) {−0.5};
\node at (455.7,400.7) {0.0};
\node at (472.3,389.3) {0.5};
\node at (488.3,376.7) {1.0};
\node at (505,366) {1.5};
\node at (521,354.3) {2.0};
\node at (476,416) {y};
\node at (546,119) {0.6};
\node at (545.3,154) {0.4};
\node at (544.3,189) {0.2};
\node at (543.3,222.7) {0.0};
\node at (541,256.7) {−0.2};
\node at (540.3,290) {−0.4};
\node at (539.7,322.7) {−0.6};
\node at (573.7,214) {z};
\end{scope}
\pgfresetboundingbox
\path[use as bounding box] (0,0) rectangle (429.84pt,348.48pt);
\end{tikzpicture}
\end{document}
